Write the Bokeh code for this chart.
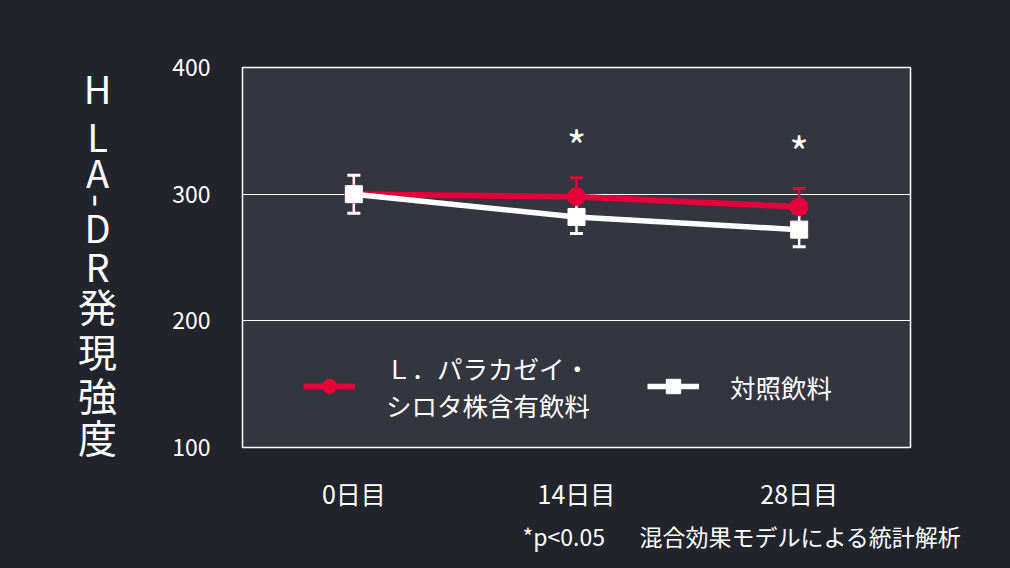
from bokeh.plotting import figure
from bokeh.layouts import row
from bokeh.models import (ColumnDataSource, Whisker, TeeHead, Legend, LegendItem,
                          Title, FactorRange, Label)
from bokeh.core.properties import value
from bokeh.embed import file_html
from bokeh.resources import INLINE

days = ["0日目", "14日目", "28日目"]
probiotic = [300, 298, 290]
probiotic_err = [15, 15, 14.5]
control = [300, 282, 272]
control_err = [15, 13, 13.5]
sig_marks = ["", "*", "*"]
sig_y = [None, 339, 334.5]

probiotic_label = "Ｌ．パラカゼイ・\nシロタ株含有飲料"
control_label = "対照飲料"
y_label = "HLA-DR発現強度"
footnote = "*p<0.05\u3000\u2002混合効果モデルによる統計解析"

BG = "#22242c"
PANEL = "#33353f"
RED = "#e4003a"
WHITE = "#ffffff"
FONT = "Noto Sans CJK JP"

template = """
{% block preamble %}
<style>
body { background-color: #22242c; }
</style>
{% endblock %}
"""

# y-axis title: a vertical column of upright characters (page pixels, top down)
char_y = [87, 135, 171, 200, 226, 265, 304, 349, 393, 435]

lab = figure(width=158, height=568, x_range=(0, 158), y_range=(568, 0),
             output_backend="svg", toolbar_location=None, min_border=0)
lab.frame_align = False
lab.axis.visible = False
lab.grid.visible = False
lab.outline_line_color = None
lab.background_fill_color = BG
lab.border_fill_color = BG
for ch, cy in zip(y_label, char_y):
    lab.add_layout(Label(x=97, y=cy, text=ch,
                         angle=-1.5708 if ch == "-" else 0,
                         text_font=FONT, text_font_size="38px" if ch.isascii() else "39px",
                         text_color=WHITE, text_align="center", text_baseline="middle"))

p = figure(width=852, height=568, x_range=FactorRange(*days), y_range=(100, 400),
           output_backend="svg", toolbar_location=None,
           min_border_left=84, min_border_right=100, min_border_top=67, min_border_bottom=121)
p.background_fill_color = PANEL
p.border_fill_color = BG
p.outline_line_color = WHITE
p.outline_line_width = 1.5

p.xgrid.visible = False
p.ygrid.grid_line_color = WHITE
p.ygrid.grid_line_width = 1
p.yaxis.ticker = [100, 200, 300, 400]

for ax in (p.xaxis, p.yaxis):
    ax.axis_line_color = None
    ax.major_tick_line_color = None
    ax.minor_tick_line_color = None
    ax.major_label_text_color = WHITE
    ax.major_label_text_font = FONT
p.xaxis.major_label_text_font_size = "25px"
p.yaxis.major_label_text_font_size = "23px"
p.xaxis.major_label_standoff = 21
p.yaxis.major_label_standoff = 26

src_p = ColumnDataSource(dict(x=days, y=probiotic,
                              lo=[v - e for v, e in zip(probiotic, probiotic_err)],
                              hi=[v + e for v, e in zip(probiotic, probiotic_err)]))
src_c = ColumnDataSource(dict(x=days, y=control,
                              lo=[v - e for v, e in zip(control, control_err)],
                              hi=[v + e for v, e in zip(control, control_err)]))

for src, col in ((src_p, RED), (src_c, WHITE)):
    w = Whisker(source=src, base="x", lower="lo", upper="hi", level="underlay",
                line_color=col, line_width=2.5,
                lower_head=TeeHead(size=13, line_color=col, line_width=3),
                upper_head=TeeHead(size=13, line_color=col, line_width=3))
    p.add_layout(w)

r_line = p.line("x", "y", source=src_p, line_color=RED, line_width=6)
r_pts = p.scatter("x", "y", source=src_p, marker="circle", size=18,
                  fill_color=RED, line_color=RED)
c_line = p.line("x", "y", source=src_c, line_color=WHITE, line_width=5.5)
c_pts = p.scatter("x", "y", source=src_c, marker="square", size=17,
                  fill_color=WHITE, line_color=WHITE)

sig_src = ColumnDataSource(dict(x=days[1:], y=sig_y[1:], t=sig_marks[1:]))
p.text("x", "y", text="t", source=sig_src, text_font=value(FONT),
       text_font_size="42px", text_color=WHITE,
       text_align="center", text_baseline="middle")

legend = Legend(items=[LegendItem(label=probiotic_label, renderers=[r_line, r_pts]),
                       LegendItem(label=control_label, renderers=[c_line, c_pts])],
                orientation="horizontal", location=(61, 24),
                glyph_width=52, glyph_height=36, label_standoff=31, spacing=57,
                padding=0, margin=0,
                label_text_font=FONT, label_text_font_size="25.5px",
                label_text_color=WHITE,
                background_fill_alpha=0, border_line_alpha=0)
p.add_layout(legend, "center")

foot = Title(text=footnote, align="left", offset=280, standoff=7,
             text_font=FONT, text_font_size="23px", text_font_style="normal",
             text_color=WHITE)
p.add_layout(foot, "below")

layout = row(lab, p)
open("out.html", "w").write(file_html(layout, INLINE, template=template))
